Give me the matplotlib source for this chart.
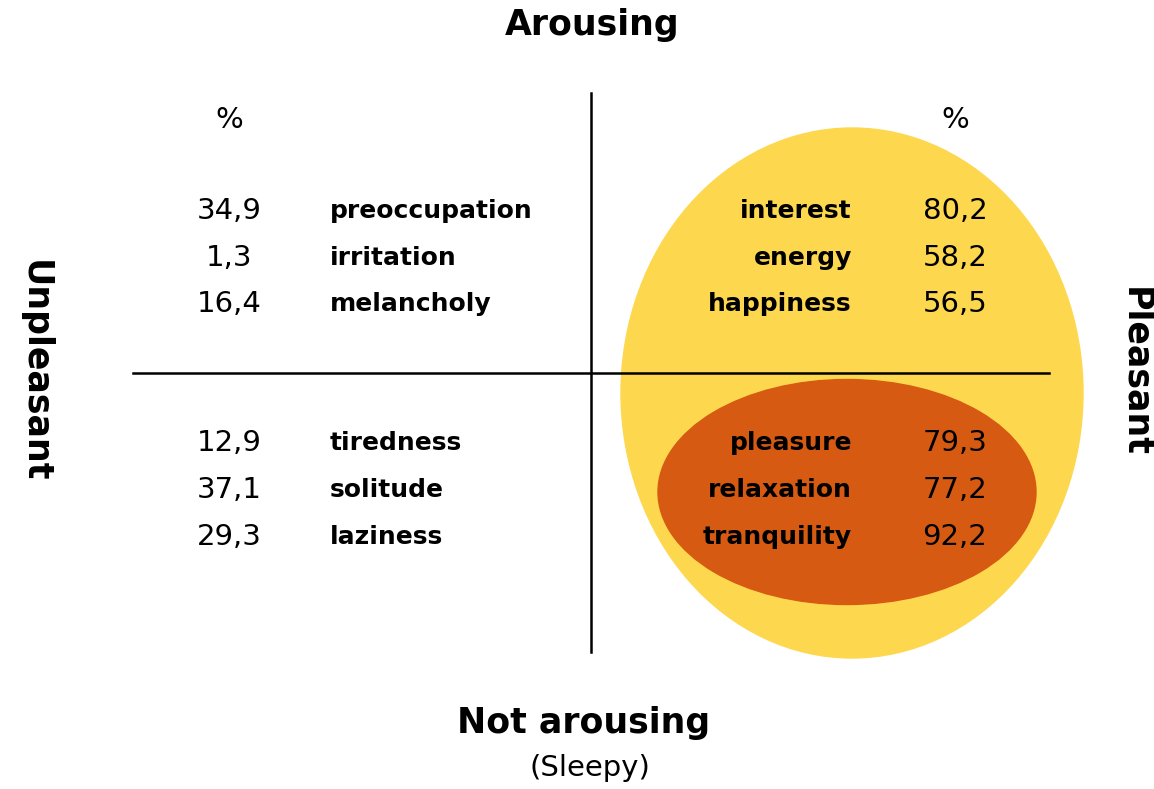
import matplotlib.pyplot as plt
from matplotlib.patches import Ellipse

# Datos (porcentajes)
left_top_labels = ["preoccupation", "irritation", "melancholy"]
left_top_values = ["34,9", "1,3", "16,4"]
left_bottom_labels = ["tiredness", "solitude", "laziness"]
left_bottom_values = ["12,9", "37,1", "29,3"]
right_top_labels = ["interest", "energy", "happiness"]
right_top_values = ["80,2", "58,2", "56,5"]
right_bottom_labels = ["pleasure", "relaxation", "tranquility"]
right_bottom_values = ["79,3", "77,2", "92,2"]

top_rows = [211, 258, 304]
bottom_rows = [443, 490, 537]

fig = plt.figure(figsize=(11.54, 7.89), dpi=100)
ax = fig.add_axes([0, 0, 1, 1])
ax.set_xlim(0, 1154)
ax.set_ylim(789, 0)
ax.axis("off")

# elipses
ax.add_patch(Ellipse((852, 393), 462, 530, color="#FDD84E", zorder=1))
ax.add_patch(Ellipse((847, 492), 378, 225, color="#D65A12", zorder=2))

# ejes
ax.plot([591, 591], [93, 652], color="black", lw=1.8, zorder=3)
ax.plot([133, 1049], [373, 373], color="black", lw=1.8, zorder=3)

num_fs = 21
lab_fs = 18

ax.text(229, 120, "%", fontsize=num_fs, ha="center", va="center")
ax.text(955, 120, "%", fontsize=num_fs, ha="center", va="center")

for rows, labels, values in [(top_rows, left_top_labels, left_top_values),
                             (bottom_rows, left_bottom_labels, left_bottom_values)]:
    for y, lab, val in zip(rows, labels, values):
        ax.text(229, y, val, fontsize=num_fs, ha="center", va="center", zorder=4)
        ax.text(330, y, lab, fontsize=lab_fs, fontweight="bold", ha="left", va="center", zorder=4)

for rows, labels, values in [(top_rows, right_top_labels, right_top_values),
                             (bottom_rows, right_bottom_labels, right_bottom_values)]:
    for y, lab, val in zip(rows, labels, values):
        ax.text(852, y, lab, fontsize=lab_fs, fontweight="bold", ha="right", va="center", zorder=4)
        ax.text(955, y, val, fontsize=num_fs, ha="center", va="center", zorder=4)

ax.text(592, 25, "Arousing", fontsize=25, fontweight="bold", ha="center", va="center")
ax.text(584, 723, "Not arousing", fontsize=25, fontweight="bold", ha="center", va="center")
ax.text(590, 768, "(Sleepy)", fontsize=21, ha="center", va="center")
ax.text(35, 371, "Unpleasant", fontsize=25, fontweight="bold", ha="center", va="center", rotation=270)
ax.text(1135, 372, "Pleasant", fontsize=25, fontweight="bold", ha="center", va="center", rotation=270)

fig.savefig("out.png", dpi=100)
